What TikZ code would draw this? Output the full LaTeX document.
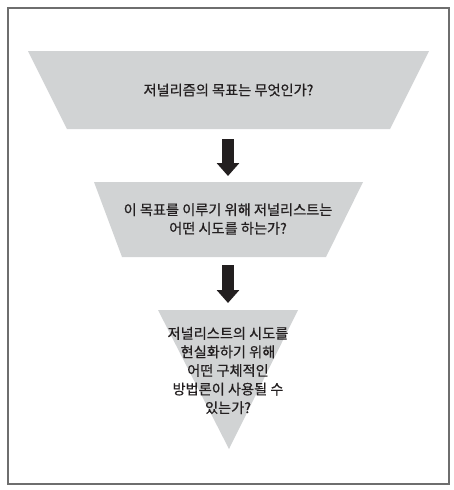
\documentclass[tikz,border=0pt]{standalone}
\usepackage{fontspec}
\setmainfont{Noto Sans CJK KR}[FakeBold=0.6]
\usetikzlibrary{arrows.meta}
\definecolor{shapegrey}{HTML}{D1D3D4}
\definecolor{framegrey}{HTML}{6E6E6E}
\definecolor{arrowblack}{HTML}{231F20}
\begin{document}
\begin{tikzpicture}[x=1pt,y=-1pt,
  funnel/.style={fill=shapegrey},
  qtext/.style={font=\fontsize{14.2}{18.6}\selectfont, align=center, text=arrowblack, inner sep=0pt},
  blockarrow/.style={draw=arrowblack, line width=12pt, -{Triangle[width=22pt,length=13pt]}}]
\useasboundingbox (0,0) rectangle (454,490);
\draw[framegrey, line width=1.2pt] (8,8) rectangle (449,484);
% shapes
\fill[funnel] (28,51) -- (429,51) -- (390,129) -- (67,129) -- cycle;
\fill[funnel] (94,182) -- (363,182) -- (326,257) -- (122,257) -- cycle;
\fill[funnel] (158,310) -- (298,310) -- (229,449) -- cycle;
% texts
\node[qtext] (q1) at (228.5,90) {저널리즘의 목표는 무엇인가?};
\node[qtext] (q2) at (228,219) {이 목표를 이루기 위해 저널리스트는\\어떤 시도를 하는가?};
\node[qtext] (q3) at (228,370.5) {저널리스트의 시도를\\현실화하기 위해\\어떤 구체적인\\방법론이 사용될 수\\있는가?};
% arrows
\coordinate (a1s) at (228,139);
\coordinate (a1e) at (228,176);
\coordinate (a2s) at (228,265);
\coordinate (a2e) at (228,303);
\draw[blockarrow] (a1s) -- (a1e);
\draw[blockarrow] (a2s) -- (a2e);
\end{tikzpicture}
\end{document}
